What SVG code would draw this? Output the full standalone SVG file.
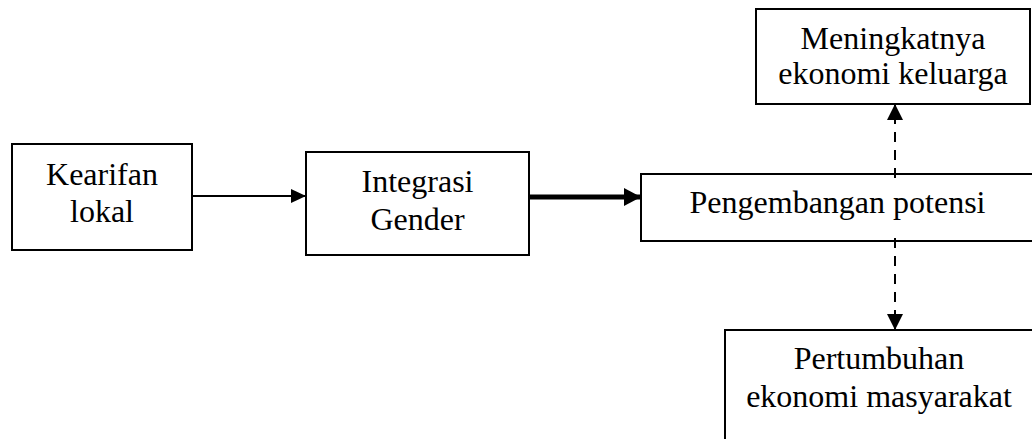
<svg xmlns="http://www.w3.org/2000/svg" width="1032" height="439" viewBox="0 0 1032 439">
<style>
.box{fill:#fff;stroke:#000;stroke-width:2}
.t{font-family:"Liberation Serif","Times New Roman",serif;font-size:32px;fill:#000;text-anchor:middle}
.c{stroke:#000;fill:none}
</style>
<defs>
<marker id="ah" markerUnits="userSpaceOnUse" markerWidth="16" markerHeight="14" refX="15" refY="7" orient="auto"><path d="M0,0L15,7L0,14Z" fill="#000"/></marker>
<marker id="ahb" markerUnits="userSpaceOnUse" markerWidth="18" markerHeight="18" refX="17" refY="9" orient="auto"><path d="M0,0L17,9L0,18Z" fill="#000"/></marker>
<marker id="ahd" markerUnits="userSpaceOnUse" markerWidth="17" markerHeight="16" refX="16" refY="8" orient="auto"><path d="M0,0L16,8L0,16Z" fill="#000"/></marker>
</defs>
<rect width="1032" height="439" fill="#fff"/>
<g id="connectors">
<line class="c" x1="192" y1="196" x2="306" y2="196" stroke-width="2" marker-end="url(#ah)"/>
<line class="c" x1="529" y1="197" x2="641" y2="197" stroke-width="5" marker-end="url(#ahb)"/>
<line class="c" x1="895" y1="178" x2="895" y2="104" stroke-width="2" stroke-dasharray="10 8" marker-end="url(#ahd)"/>
<line class="c" x1="895" y1="238" x2="895" y2="330" stroke-width="2" stroke-dasharray="10 8" marker-end="url(#ahd)"/>
</g>
<g id="kearifan">
<rect class="box" x="12" y="144" width="180" height="106"/>
<text class="t" x="102" y="185">Kearifan</text>
<text class="t" x="102" y="222">lokal</text>
</g>
<g id="integrasi">
<rect class="box" x="306" y="152" width="223" height="103"/>
<text class="t" x="417.5" y="192">Integrasi</text>
<text class="t" x="417.5" y="230">Gender</text>
</g>
<g id="pengembangan">
<rect class="box" x="641" y="174" width="394" height="67" fill-opacity="0"/>
<text class="t" x="837.5" y="213">Pengembangan potensi</text>
</g>
<g id="meningkatnya">
<rect class="box" x="756" y="9" width="274" height="95"/>
<text class="t" x="893" y="49">Meningkatnya</text>
<text class="t" x="893" y="84">ekonomi keluarga</text>
</g>
<g id="pertumbuhan">
<rect class="box" x="725" y="330" width="312" height="120"/>
<text class="t" x="879" y="369">Pertumbuhan</text>
<text class="t" x="879" y="407">ekonomi masyarakat</text>
</g>
</svg>
